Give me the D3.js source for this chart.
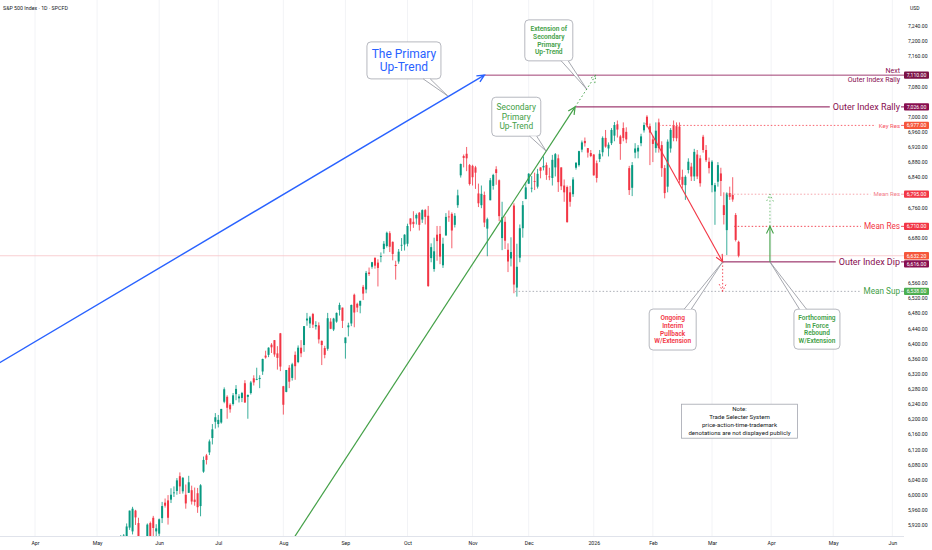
<!DOCTYPE html>
<html>
<head>
<meta charset="utf-8">
<script src="https://cdn.jsdelivr.net/npm/d3@7"></script>
<style>
  body { margin: 0; background: #fff; }
  svg { display: block; font-family: Roboto, "Liberation Sans", sans-serif; }
</style>
</head>
<body>
<div id="chart"></div>
<script>
// bars are trading days, bar 0 = 1 Apr 2025
const monthLabels = ["Apr", "May", "Jun", "Jul", "Aug", "Sep", "Oct", "Nov", "Dec", "2026", "Feb", "Mar", "Apr", "May", "Jun"]
const monthBars = [0, 21, 42, 62, 84, 105, 126, 148, 167, 189, 209, 229, 249, 270, 290]

const priceTicks = [5920, 5960, 6000, 6040, 6080, 6120, 6160, 6200, 6240, 6280, 6320, 6360, 6400, 6440,
  6480, 6520, 6560, 6600, 6640, 6680, 6720, 6760, 6800, 6840, 6880, 6920, 6960, 7000, 7040, 7080,
  7120, 7160, 7200, 7240]

const firstBar = 28 // 12 May 2025

// [open, high, low, close]
const may25 = [
  [5807, 5845, 5786, 5844], [5854, 5893, 5845, 5886], [5886, 5896, 5868, 5892], [5869, 5924, 5867, 5916],
  [5913, 5958, 5907, 5958], [5903, 5968, 5895, 5963], [5958, 5960, 5920, 5940], [5925, 5939, 5830, 5844],
  [5841, 5878, 5825, 5842], [5782, 5829, 5767, 5802], [5854, 5924, 5854, 5921], [5925, 5929, 5881, 5889],
  [5939, 5944, 5873, 5912], [5903, 5922, 5843, 5911]
]
const jun25 = [
  [5897, 5937, 5862, 5935], [5938, 5981, 5925, 5970], [5979, 5990, 5966, 5971], [5985, 5999, 5921, 5939],
  [5987, 6017, 5978, 6000], [6005, 6022, 5994, 6006], [6010, 6044, 6000, 6038], [6049, 6059, 6002, 6022],
  [6009, 6046, 6003, 6045], [6000, 6027, 5963, 5977], [6005, 6050, 6005, 6033], [6012, 6024, 5974, 5982],
  [5987, 6019, 5971, 5981], [6004, 6018, 5952, 5967], [5970, 6028, 5943, 6025], [6061, 6101, 6058, 6092],
  [6104, 6108, 6080, 6092], [6112, 6146, 6105, 6141], [6150, 6187, 6133, 6173], [6193, 6216, 6175, 6205]
]
const jul25 = [
  [6187, 6211, 6178, 6198], [6191, 6227, 6188, 6227], [6246, 6284, 6242, 6279], [6259, 6263, 6201, 6230],
  [6238, 6242, 6217, 6226], [6240, 6269, 6236, 6263], [6266, 6290, 6250, 6280], [6255, 6266, 6244, 6260],
  [6256, 6272, 6245, 6269], [6295, 6303, 6243, 6244], [6259, 6265, 6201, 6264], [6269, 6301, 6265, 6297],
  [6308, 6316, 6289, 6297], [6304, 6336, 6303, 6306], [6306, 6316, 6282, 6309], [6326, 6360, 6317, 6359],
  [6368, 6381, 6360, 6363], [6370, 6390, 6364, 6389], [6397, 6401, 6375, 6390], [6409, 6409, 6365, 6371],
  [6374, 6393, 6331, 6362], [6427, 6428, 6327, 6339]
]
const aug25 = [
  [6287, 6288, 6212, 6238], [6272, 6330, 6271, 6330], [6336, 6343, 6282, 6299], [6309, 6349, 6302, 6345],
  [6370, 6379, 6304, 6340], [6351, 6395, 6348, 6389], [6389, 6409, 6364, 6374], [6396, 6446, 6378, 6446],
  [6461, 6481, 6447, 6466], [6453, 6473, 6441, 6469], [6478, 6481, 6441, 6450], [6445, 6459, 6437, 6449],
  [6448, 6456, 6400, 6411], [6407, 6408, 6343, 6396], [6388, 6394, 6361, 6370], [6386, 6481, 6381, 6467],
  [6458, 6467, 6438, 6439], [6437, 6468, 6433, 6466], [6458, 6482, 6455, 6481], [6489, 6508, 6474, 6502],
  [6495, 6495, 6441, 6460]
]
const sep25 = [
  [6401, 6416, 6360, 6416], [6443, 6455, 6419, 6448], [6453, 6503, 6446, 6502], [6529, 6532, 6443, 6482],
  [6505, 6508, 6483, 6495], [6500, 6513, 6480, 6513], [6550, 6555, 6515, 6532], [6543, 6592, 6533, 6587],
  [6588, 6601, 6579, 6584], [6603, 6616, 6598, 6615], [6627, 6627, 6598, 6606], [6614, 6623, 6551, 6600],
  [6630, 6641, 6615, 6631], [6650, 6671, 6638, 6664], [6658, 6696, 6654, 6693], [6692, 6697, 6642, 6656],
  [6669, 6670, 6620, 6637], [6608, 6619, 6569, 6605], [6617, 6650, 6611, 6643], [6661, 6679, 6645, 6661],
  [6662, 6689, 6646, 6688]
]
const oct25 = [
  [6664, 6717, 6657, 6711], [6731, 6731, 6697, 6715], [6722, 6750, 6706, 6716], [6731, 6744, 6715, 6740],
  [6746, 6748, 6699, 6714], [6728, 6755, 6719, 6753], [6753, 6756, 6715, 6735], [6738, 6764, 6550, 6552],
  [6626, 6665, 6615, 6655], [6597, 6680, 6590, 6644], [6688, 6711, 6619, 6671], [6690, 6711, 6610, 6630],
  [6607, 6680, 6600, 6664], [6686, 6745, 6685, 6735], [6736, 6752, 6722, 6735], [6743, 6747, 6652, 6699],
  [6714, 6745, 6707, 6738], [6766, 6807, 6759, 6792], [6845, 6876, 6839, 6875], [6896, 6900, 6866, 6891],
  [6902, 6920, 6856, 6890], [6872, 6875, 6818, 6822], [6870, 6873, 6818, 6840]
]
const nov25 = [
  [6866, 6870, 6809, 6852], [6797, 6823, 6761, 6771], [6766, 6818, 6758, 6796], [6793, 6802, 6708, 6720],
  [6704, 6733, 6631, 6729], [6779, 6838, 6779, 6832], [6817, 6849, 6807, 6846], [6861, 6869, 6820, 6851],
  [6832, 6834, 6724, 6737], [6679, 6775, 6647, 6734], [6722, 6736, 6650, 6672], [6648, 6665, 6589, 6617],
  [6625, 6681, 6604, 6642], [6765, 6771, 6533, 6556], [6548, 6664, 6524, 6603], [6627, 6715, 6615, 6705],
  [6705, 6777, 6680, 6766], [6782, 6827, 6782, 6813], [6823, 6851, 6822, 6849]
]
const dec25 = [
  [6812, 6843, 6800, 6812], [6830, 6852, 6806, 6829], [6815, 6862, 6810, 6849], [6866, 6866, 6837, 6857],
  [6866, 6895, 6858, 6870], [6872, 6879, 6833, 6846], [6842, 6865, 6832, 6840], [6838, 6899, 6818, 6886],
  [6866, 6904, 6842, 6901], [6890, 6900, 6801, 6827], [6866, 6866, 6806, 6816], [6818, 6834, 6775, 6800],
  [6814, 6818, 6720, 6721], [6800, 6817, 6762, 6775], [6795, 6840, 6788, 6834], [6865, 6880, 6860, 6878],
  [6872, 6910, 6868, 6909], [6913, 6937, 6906, 6932], [6936, 6945, 6921, 6930], [6917, 6917, 6892, 6905],
  [6904, 6912, 6893, 6896], [6900, 6901, 6844, 6845]
]
const jan26 = [
  [6877, 6884, 6826, 6838], [6888, 6912, 6880, 6902], [6906, 6948, 6895, 6944], [6944, 6965, 6918, 6921],
  [6916, 6932, 6895, 6926], [6930, 6970, 6925, 6965], [6950, 6986, 6935, 6978], [6980, 6990, 6945, 6966],
  [6948, 6952, 6886, 6928], [6970, 6985, 6935, 6944], [6960, 6972, 6930, 6940], [6864, 6870, 6793, 6806],
  [6812, 6880, 6790, 6872], [6905, 6930, 6890, 6916], [6908, 6925, 6890, 6918], [6930, 6955, 6922, 6948],
  [6964, 6985, 6958, 6978], [7000, 7004, 6972, 6978], [6975, 6982, 6872, 6958], [6940, 6950, 6880, 6928]
]
const feb26 = [
  [6917, 6985, 6905, 6963], [6985, 6995, 6905, 6917], [6925, 6935, 6841, 6864], [6864, 6872, 6784, 6798],
  [6815, 6940, 6800, 6934], [6916, 6970, 6905, 6965], [6978, 6990, 6935, 6944], [6975, 6985, 6935, 6943],
  [6974, 6985, 6825, 6833], [6841, 6860, 6810, 6820], [6819, 6845, 6780, 6841], [6859, 6890, 6850, 6881],
  [6868, 6878, 6830, 6842], [6842, 6915, 6830, 6907], [6900, 6912, 6835, 6842], [6890, 6898, 6815, 6824],
  [6947, 6952, 6905, 6912], [6912, 6925, 6880, 6885], [6881, 6892, 6850, 6864]
]
const mar26 = [
  [6819, 6885, 6800, 6881], [6802, 6825, 6714, 6819], [6828, 6880, 6815, 6872], [6850, 6865, 6790, 6830],
  [6766, 6800, 6715, 6740], [6700, 6800, 6634, 6797], [6798, 6815, 6780, 6788], [6793, 6840, 6775, 6781],
  [6740, 6745, 6670, 6674], [6669, 6672, 6628, 6632.2]
]

// horizontal levels drawn on the chart
const levelPrices = [7110, 7026, 6977, 6795, 6710, 6616, 6538]
const levelTexts = ["Outer Index Rally", "Outer Index Rally", "Key Res", "Mean Res", "Mean Res", "Outer Index Dip", "Mean Sup"]
const levelFromBar = [152, 183, 211, 234, 236.5, 232.6, 162.4]

// trend lines, [bar, price]
const primaryTrend = [[-12, 6349], [152, 7110]]
const secondaryTrend = [[80, 5795], [182.7, 7026]]
const secondaryExt = [[182.7, 7026], [189.7, 7110]]
const pullback = [[206.6, 6983], [232.6, 6616]]
const pullbackExt = [[232.6, 6616], [232.6, 6538]]
const rebound = [[248.6, 6616], [248.6, 6710]]
const reboundExt = [[248.6, 6710], [248.6, 6795]]

// callouts: text, box centre [bar, price], pointer tip [bar, price]
const primaryNote = ["The Primary", "Up-Trend"]
const secondaryNote = ["Secondary", "Primary", "Up-Trend"]
const extensionNote = ["Extension of", "Secondary", "Primary", "Up-Trend"]
const pullbackNote = ["Ongoing", "Interim", "Pullback", "W/Extension"]
const reboundNote = ["Forthcoming", "In Force", "Rebound", "W/Extension"]
const disclaimer = ["Note:", "Trade Selecter System", "price-action-time-trademark", "denotations are not displayed publicly"]
const calloutCentres = [[124.8, 7149], [162.8, 7000], [173.8, 7202], [215.7, 6437], [264.5, 6438], [238.3, 6194.5]]
const calloutTips = [[139.6, 7055], [172.9, 6909], [186.6, 7073], [232.6, 6616], [248.6, 6616], null]

// prices flagged on the price scale
const axisFlagPrices = [7110, 7026, 6977, 6795, 6710, 6632.2, 6616, 6538]
const lastPrice = 6632.2

const up = "#089981"
const down = "#f23645"
const maroon = "#880e4f"
const green = "#43a047"
const plotW = 904
const plotH = 536

let candles = [].concat(may25, jun25, jul25, aug25, sep25, oct25, nov25, dec25, jan26, feb26, mar26)
  .map((d, i) => ({ bar: firstBar + i, o: d[0], h: d[1], l: d[2], c: d[3] }))

let svg = d3.select("#chart").append("svg").attr("width", 932).attr("height", 550)

let x = d3.scaleLinear().domain([0, 229]).range([35, 712])
let y = d3.scaleLinear().domain([5890.8, 7308.8]).range([plotH, 0])

svg.append("defs").append("clipPath").attr("id", "plot")
  .append("rect").attr("width", plotW).attr("height", plotH)

// flag positions on the price scale, pushed apart when they collide
let flagColors = ["#7b1245", maroon, "#f5563a", down, down, "#f5563a", maroon, "#4caf50"]
let labelH = 7.3
let prevY = -100
let flags = axisFlagPrices.map((p, i) => {
  let yy = y(p)
  if (yy < prevY + labelH + 0.8) yy = prevY + labelH + 0.8
  prevY = yy
  return { p: p, y: yy, color: flagColors[i] }
})

// faint month grid
svg.append("g").selectAll("line").data(monthBars).enter().append("line")
  .attr("x1", d => x(d)).attr("x2", d => x(d))
  .attr("y1", 0).attr("y2", plotH)
  .attr("stroke", "#f2f3f6").attr("stroke-width", 1)

// time axis
let xAxis = svg.append("g")
  .attr("transform", `translate(0, ${plotH})`)
  .call(d3.axisBottom(x).tickValues(monthBars).tickFormat((d, i) => monthLabels[i]).tickSize(0).tickPadding(5))
xAxis.select(".domain").remove()
xAxis.selectAll("text").attr("font-size", 5.2).attr("fill", "#131722").attr("font-family", "Roboto")

svg.append("line").attr("x1", 0).attr("x2", plotW).attr("y1", plotH + 0.5).attr("y2", plotH + 0.5)
  .attr("stroke", "#e0e3eb")

// price axis, ticks hidden where a flag covers them
let visibleTicks = priceTicks.filter(t => flags.every(f => Math.abs(y(t) - f.y) > labelH / 2 + 2.6))
let yAxis = svg.append("g")
  .attr("transform", `translate(906, 0)`)
  .call(d3.axisRight(y).tickValues(visibleTicks).tickFormat(d3.format(",.2f")).tickSize(0).tickPadding(2))
yAxis.select(".domain").remove()
yAxis.selectAll("text").attr("font-size", 5.1).attr("fill", "#131722").attr("font-family", "Roboto")

svg.append("text").attr("x", 910).attr("y", 10).attr("font-size", 5).attr("fill", "#131722").text("USD")
svg.append("text").attr("x", 3).attr("y", 10).attr("font-size", 5.3).attr("fill", "#131722")
  .text("S&P 500 Index · 1D · SPCFD")

let plot = svg.append("g").attr("clip-path", "url(#plot)")

// last price line
plot.append("line")
  .attr("x1", 0).attr("x2", plotW).attr("y1", y(lastPrice)).attr("y2", y(lastPrice))
  .attr("stroke", "#f7c3c7").attr("stroke-width", 0.8)

// candles
let candleGroup = plot.append("g")
candleGroup.selectAll("line").data(candles).enter().append("line")
  .attr("x1", d => x(d.bar)).attr("x2", d => x(d.bar))
  .attr("y1", d => y(d.h)).attr("y2", d => y(d.l))
  .attr("stroke", d => d.c >= d.o ? up : down).attr("stroke-width", 0.8)
candleGroup.selectAll("rect").data(candles).enter().append("rect")
  .attr("x", d => x(d.bar) - 1)
  .attr("width", 2)
  .attr("y", d => y(Math.max(d.o, d.c)))
  .attr("height", d => Math.max(0.8, Math.abs(y(d.o) - y(d.c))))
  .attr("fill", d => d.c >= d.o ? up : down)

let pt = d => [x(d[0]), y(d[1])]
let line = d3.line()

function arrowHead(g, from, to, color, width, dash) {
  let a = Math.atan2(to[1] - from[1], to[0] - from[0])
  let len = 8, spread = Math.PI / 7
  let pts = [
    [to[0] - len * Math.cos(a - spread), to[1] - len * Math.sin(a - spread)],
    to,
    [to[0] - len * Math.cos(a + spread), to[1] - len * Math.sin(a + spread)]
  ]
  g.append("path").attr("d", line(pts)).attr("fill", "none")
    .attr("stroke", color).attr("stroke-width", width).attr("stroke-dasharray", dash)
}

function drawSegment(seg, color, width, dash, head) {
  let p = seg.map(pt)
  plot.append("path").attr("d", line(p)).attr("fill", "none")
    .attr("stroke", color).attr("stroke-width", width).attr("stroke-dasharray", dash)
  if (head) arrowHead(plot, p[0], p[1], color, width, dash)
}

// horizontal levels
let levelStyle = [
  { stroke: maroon, dash: null, color: maroon, size: 7, width: 0.8 },
  { stroke: maroon, dash: null, color: maroon, size: 9, width: 1 },
  { stroke: "#f7525f", dash: "1.5,2", color: "#f7525f", size: 6, width: 0.9 },
  { stroke: "#f49aa2", dash: "1.5,2", color: "#f27c8a", size: 6, width: 0.9 },
  { stroke: "#f23645", dash: "1.5,2", color: "#f23645", size: 8.2, width: 0.9 },
  { stroke: maroon, dash: null, color: maroon, size: 9, width: 1 },
  { stroke: "#a3a6af", dash: "1.5,2", color: green, size: 8.2, width: 0.9 }
]

levelPrices.forEach((p, i) => {
  let s = levelStyle[i]
  let yy = y(p)
  let x0 = x(levelFromBar[i])
  if (i === 0) {
    plot.append("line").attr("x1", x0).attr("x2", plotW).attr("y1", yy).attr("y2", yy)
      .attr("stroke", s.stroke).attr("stroke-width", s.width)
    svg.append("text").attr("x", 900).attr("y", yy - 2).attr("text-anchor", "end")
      .attr("font-size", s.size).attr("fill", s.color).text("Next")
    svg.append("text").attr("x", 900).attr("y", yy + 7).attr("text-anchor", "end")
      .attr("font-size", s.size).attr("fill", s.color).text(levelTexts[i])
    return
  }
  let t = svg.append("text").attr("x", 900).attr("y", yy).attr("dy", "0.35em")
    .attr("text-anchor", "end").attr("font-size", s.size).attr("fill", s.color).text(levelTexts[i])
  let tw = t.node().getComputedTextLength()
  plot.append("line").attr("x1", x0).attr("x2", 900 - tw - 3).attr("y1", yy).attr("y2", yy)
    .attr("stroke", s.stroke).attr("stroke-width", s.width).attr("stroke-dasharray", s.dash)
  plot.append("line").attr("x1", 901).attr("x2", plotW).attr("y1", yy).attr("y2", yy)
    .attr("stroke", s.stroke).attr("stroke-width", s.width)
})

// trend lines and arrows
drawSegment(primaryTrend, "#2962ff", 1.4, null, true)
drawSegment(secondaryTrend, green, 1.2, null, true)
drawSegment(secondaryExt, green, 1, "1.5,2.5", true)
drawSegment(pullback, down, 1.1, null, true)
drawSegment(pullbackExt, down, 0.9, "1.5,2", true)
drawSegment(rebound, green, 1.1, null, true)
drawSegment(reboundExt, "#66bb6a", 0.9, "1.5,2", true)

// callouts
let calloutStyle = [
  { lines: primaryNote, w: 74, h: 37, size: 12, lh: 12.7, color: "#2962ff", weight: 400, rx: 4 },
  { lines: secondaryNote, w: 49, h: 39, size: 8.4, lh: 9.7, color: green, weight: 400, rx: 4 },
  { lines: extensionNote, w: 48, h: 41, size: 6.6, lh: 7.8, color: green, weight: 600, rx: 4 },
  { lines: pullbackNote, w: 47, h: 41, size: 6.5, lh: 7.7, color: down, weight: 600, rx: 4 },
  { lines: reboundNote, w: 46, h: 40, size: 6.5, lh: 7.8, color: green, weight: 600, rx: 4 },
  { lines: disclaimer, w: 116, h: 34, size: 6.1, lh: 7.9, color: "#131722", weight: 400, rx: 0 }
]

calloutStyle.forEach((s, i) => {
  let c = pt(calloutCentres[i])
  let g = svg.append("g")
  g.append("rect")
    .attr("x", c[0] - s.w / 2).attr("y", c[1] - s.h / 2)
    .attr("width", s.w).attr("height", s.h).attr("rx", s.rx)
    .attr("fill", "#fff").attr("stroke", "#a3a6af").attr("stroke-width", 0.8)
  if (calloutTips[i]) {
    let tip = pt(calloutTips[i])
    let dx = tip[0] - c[0], dy = tip[1] - c[1]
    let k = Math.min(s.w / 2 / Math.abs(dx), s.h / 2 / Math.abs(dy))
    let e = [c[0] + dx * k, c[1] + dy * k]
    let horizontalEdge = Math.abs(dy) * s.w / 2 >= Math.abs(dx) * s.h / 2
    let a = horizontalEdge ? [e[0] - 3.5, e[1]] : [e[0], e[1] - 3.5]
    let b = horizontalEdge ? [e[0] + 3.5, e[1]] : [e[0], e[1] + 3.5]
    g.append("path").attr("d", line([a, tip, b])).attr("fill", "#fff")
      .attr("stroke", "#8f929b").attr("stroke-width", 0.8)
  }
  s.lines.forEach((txt, j) => {
    g.append("text")
      .attr("x", c[0])
      .attr("y", c[1] + (j - (s.lines.length - 1) / 2) * s.lh)
      .attr("dy", "0.35em")
      .attr("text-anchor", "middle")
      .attr("font-size", s.size)
      .attr("font-weight", s.weight)
      .attr("fill", s.color)
      .text(txt)
  })
})

// flags on the price scale
flags.forEach(d => {
  svg.append("rect").attr("x", 904).attr("y", d.y - labelH / 2).attr("width", 25).attr("height", labelH)
    .attr("rx", 1).attr("fill", d.color)
  svg.append("text").attr("x", 916.5).attr("y", d.y).attr("dy", "0.35em").attr("text-anchor", "middle")
    .attr("font-size", 5.1).attr("fill", "#fff").text(d3.format(",.2f")(d.p))
})
</script>
</body>
</html>
